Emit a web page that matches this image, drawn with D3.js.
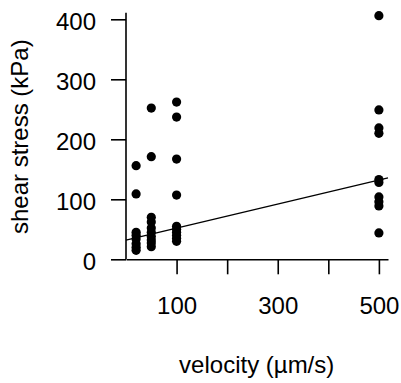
<!DOCTYPE html>
<html>
<head>
<meta charset="utf-8">
<script src="https://cdn.jsdelivr.net/npm/d3@7"></script>
<style>
  body { margin: 0; background: #fff; }
  svg text { font-family: "Liberation Sans", Arial, sans-serif; fill: #000; }
</style>
</head>
<body>
<div id="chart"></div>
<script>
// velocity groups (µm/s) and the shear stress measured at each
const velocities = [20, 50, 100, 500];
const stress20 = [156, 109, 45, 40, 34, 26, 20, 15];
const stress50 = [252, 171, 70, 62, 52, 45, 38, 32, 27, 21];
const stress100 = [262, 237, 167, 107, 55, 50, 45, 40, 35, 30];
const stress500 = [406, 249, 219, 210, 133, 128, 104, 96, 89, 44];
const fitLine = { intercept: 32, slope: 0.2 };
const xTicks = [100, 200, 300, 400, 500];
const xTickLabels = ["100", "", "300", "", "500"];
const yTicks = [0, 100, 200, 300, 400];

const groups = [stress20, stress50, stress100, stress500];
const points = [];
groups.forEach((g, i) => g.forEach(v => points.push({ x: velocities[i], y: v })));

const width = 401, height = 383;

const svg = d3.select('#chart').append('svg')
  .attr('width', width)
  .attr('height', height);

const x = d3.scaleLinear().domain([0, 518]).range([126, 388]);
const y = d3.scaleLinear().domain([0, 400]).range([259.3, 19.3]);
const yTop = 411;

// y axis
const yAxis = d3.axisLeft(y)
  .tickValues(yTicks)
  .tickSize(15)
  .tickPadding(15)
  .tickSizeOuter(0);

const gy = svg.append('g')
  .attr('transform', `translate(${x(0)},0)`)
  .call(yAxis);
gy.select('.domain').attr('d', `M0,${y(0)}V${y(yTop)}`);
gy.selectAll('line, path').attr('stroke', '#000').attr('stroke-width', 1.6);
gy.selectAll('text')
  .attr('font-size', 24)
  .attr('dy', null)
  .attr('y', 10)
  .attr('font-family', '"Liberation Sans", Arial, sans-serif');

// x axis
const xAxis = d3.axisBottom(x)
  .tickValues(xTicks)
  .tickFormat((d, i) => xTickLabels[i])
  .tickSize(15)
  .tickSizeOuter(0);

const gx = svg.append('g')
  .attr('transform', `translate(0,${y(0)})`)
  .call(xAxis);
gx.selectAll('line, path').attr('stroke', '#000').attr('stroke-width', 1.6);
gx.selectAll('text')
  .attr('font-size', 24)
  .attr('dy', null)
  .attr('y', 55)
  .attr('font-family', '"Liberation Sans", Arial, sans-serif');

// regression line
const xEnd = x.domain()[1];
svg.append('line')
  .attr('x1', x(0))
  .attr('y1', y(fitLine.intercept))
  .attr('x2', x(xEnd))
  .attr('y2', y(fitLine.intercept + fitLine.slope * xEnd))
  .attr('stroke', '#000')
  .attr('stroke-width', 1.3);

// points
svg.append('g')
  .selectAll('circle')
  .data(points)
  .join('circle')
  .attr('cx', d => x(d.x))
  .attr('cy', d => y(d.y))
  .attr('r', 4.6)
  .attr('fill', '#000');

// axis titles
svg.append('text')
  .attr('x', 256.7)
  .attr('y', 373)
  .attr('text-anchor', 'middle')
  .attr('font-size', 24)
  .text('velocity (µm/s)');

svg.append('text')
  .attr('transform', 'translate(28,136.7) rotate(-90)')
  .attr('text-anchor', 'middle')
  .attr('font-size', 24)
  .text('shear stress (kPa)');
</script>
</body>
</html>
